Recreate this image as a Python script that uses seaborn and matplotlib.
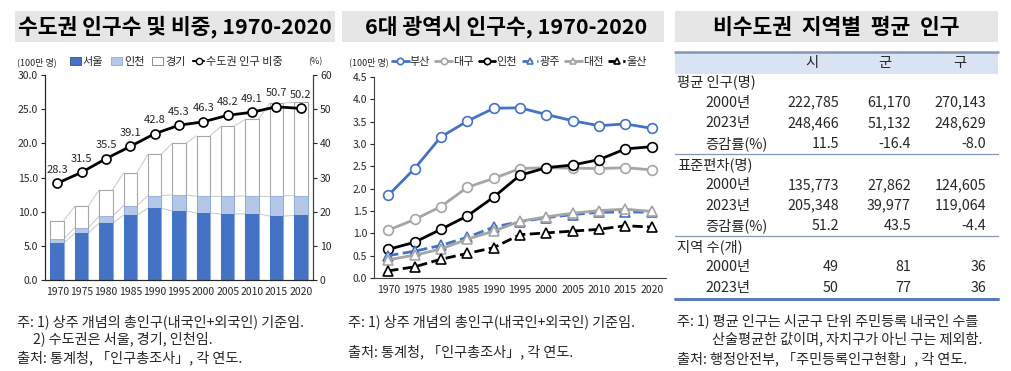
import numpy as np
import pandas as pd
import matplotlib
matplotlib.use("Agg")
import matplotlib.pyplot as plt
from matplotlib.lines import Line2D
from matplotlib.patches import Patch, Rectangle
import seaborn as sns

sns.set_style("white")
plt.rcParams['font.family'] = ['Noto Sans CJK KR', 'DejaVu Sans']

# ---- data ----
years = [1970, 1975, 1980, 1985, 1990, 1995, 2000, 2005, 2010, 2015, 2020]
seoul = [5.45, 6.85, 8.3, 9.5, 10.5, 10.1, 9.8, 9.65, 9.7, 9.35, 9.45]
incheon_cum = [6.0, 7.65, 9.35, 10.9, 12.35, 12.45, 12.25, 12.25, 12.3, 12.3, 12.35]
capital_total = [8.7, 10.8, 13.2, 15.7, 18.4, 20.0, 21.1, 22.5, 23.55, 25.9, 26.0]
capital_share = [28.3, 31.5, 35.5, 39.1, 42.8, 45.3, 46.3, 48.2, 49.1, 50.7, 50.2]

cities = ["부산", "대구", "인천", "광주", "대전", "울산"]
busan = [1.85, 2.45, 3.16, 3.51, 3.80, 3.81, 3.66, 3.52, 3.41, 3.45, 3.35]
daegu = [1.07, 1.31, 1.60, 2.03, 2.23, 2.45, 2.47, 2.46, 2.45, 2.47, 2.42]
incheon = [0.64, 0.80, 1.09, 1.39, 1.81, 2.30, 2.47, 2.53, 2.65, 2.89, 2.94]
gwangju = [0.50, 0.60, 0.73, 0.91, 1.14, 1.26, 1.35, 1.42, 1.47, 1.48, 1.47]
daejeon = [0.41, 0.51, 0.65, 0.87, 1.05, 1.27, 1.37, 1.45, 1.51, 1.54, 1.49]
ulsan = [0.16, 0.25, 0.42, 0.55, 0.68, 0.97, 1.01, 1.05, 1.09, 1.17, 1.14]

tbl_cols = ["시", "군", "구"]
avg_2000 = [222785, 61170, 270143]
avg_2023 = [248466, 51132, 248629]
avg_rate = [11.5, -16.4, -8.0]
std_2000 = [135773, 27862, 124605]
std_2023 = [205348, 39977, 119064]
std_rate = [51.2, 43.5, -4.4]
cnt_2000 = [49, 81, 36]
cnt_2023 = [50, 77, 36]

W, H = 1012, 371
fig = plt.figure(figsize=(W / 100, H / 100), dpi=100)

def fbox(x0, y0, x1, y1):
    # pixel box -> figure fraction rect
    return [x0 / W, 1 - y1 / H, (x1 - x0) / W, (y1 - y0) / H]

# overlay axis in pixel coords for titles, notes and table
ov = fig.add_axes([0, 0, 1, 1], zorder=0)
ov.set_xlim(0, W)
ov.set_ylim(H, 0)
ov.axis("off")

title_bg = "#e7e6e6"
for x0, x1, cx, txt in [(15, 335, 175, "수도권 인구수 및 비중, 1970-2020"),
                        (342, 664, 506, "6대 광역시 인구수, 1970-2020"),
                        (675, 998, 836, "비수도권 지역별 평균 인구")]:
    ov.add_patch(Rectangle((x0, 11), x1 - x0, 31, color=title_bg, lw=0))
    ov.text(cx, 27, txt.replace(" ", "  ") if "비수도권" in txt else txt, ha="center", va="center",
            fontsize=15.5, fontweight="bold", color="black")

# ---- left: stacked bars + share line ----
ax1 = fig.add_axes(fbox(45, 75, 313, 280), zorder=2)
df1 = pd.DataFrame({"year": [str(y) for y in years], "seoul": seoul,
                    "incheon": incheon_cum, "total": capital_total, "share": capital_share})
bw = 0.55
sns.barplot(data=df1, x="year", y="total", color="white", edgecolor="#a6a6a6", linewidth=0.8,
            width=bw, ax=ax1, saturation=1)
sns.barplot(data=df1, x="year", y="incheon", color="#b4c7e7", edgecolor="#8faadc", linewidth=0.6,
            width=bw, ax=ax1, saturation=1)
sns.barplot(data=df1, x="year", y="seoul", color="#4472c4", linewidth=0,
            width=bw, ax=ax1, saturation=1)

# series lines between bar tops
n = len(years)
for k in range(3):
    bars = ax1.patches[k * n:(k + 1) * n]
    for a, b in zip(bars[:-1], bars[1:]):
        ax1.plot([a.get_x() + a.get_width(), b.get_x()], [a.get_height(), b.get_height()],
                 color="#c8c8c8", lw=0.7, zorder=0.5)

ax1.set_ylim(0, 30)
ax1.set_yticks(np.arange(0, 31, 5))
ax1.set_yticklabels([f"{v:.1f}" for v in np.arange(0, 31, 5)])
ax1.set_xlim(-0.5, n - 0.5)
ax1.set_xlabel("")
ax1.set_ylabel("")
ax1.tick_params(axis="y", labelsize=7.5, length=3, direction="out", left=True, pad=2)
ax1.tick_params(axis="x", labelsize=7.5, length=0, pad=5)
for s in ["left", "right", "bottom"]:
    ax1.spines[s].set_color("#404040")
    ax1.spines[s].set_linewidth(0.8)
ax1.spines["top"].set_visible(False)

ax1b = ax1.twinx()
sns.pointplot(data=df1, x="year", y="share", color="black", markers="o", errorbar=None,
              linewidth=2, markersize=6.5, markerfacecolor="white", markeredgecolor="black",
              markeredgewidth=1.2, ax=ax1b)
ax1b.set_ylim(0, 60)
ax1b.set_yticks(np.arange(0, 61, 10))
ax1b.set_ylabel("")
ax1b.tick_params(axis="y", labelsize=7.5, length=3, direction="out", right=True, pad=2)
ax1b.spines["top"].set_visible(False)
ax1b.spines["right"].set_color("#404040")
ax1b.spines["right"].set_linewidth(0.8)
for i, v in enumerate(capital_share):
    ax1b.annotate(f"{v:.1f}", (i, v), xytext=(0, 6), textcoords="offset points",
                  ha="center", va="bottom", fontsize=8, color="#262626")

ov.text(17, 62, "(100만 명)", fontsize=6.5, va="center")
ov.text(308, 62, "(%)", fontsize=6.5, va="center")
h1 = [Patch(facecolor="#4472c4", edgecolor="#2f528f", lw=0.6, label="서울"),
      Patch(facecolor="#b4c7e7", edgecolor="#8faadc", lw=0.6, label="인천"),
      Patch(facecolor="white", edgecolor="#7f7f7f", lw=0.6, label="경기"),
      Line2D([], [], color="black", lw=1.5, marker="o", markersize=4.5,
             markerfacecolor="white", markeredgecolor="black", label="수도권 인구 비중")]
fig.legend(handles=h1, loc="center left", bbox_to_anchor=(70 / W, 1 - 62 / H), ncol=4,
           frameon=False, fontsize=8, handlelength=1.0, handleheight=0.7, handletextpad=0.15,
           columnspacing=0.7, borderaxespad=0, borderpad=0)

# ---- middle: six metropolitan cities ----
ax2 = fig.add_axes(fbox(374, 77, 666, 278), zorder=2)
styles = [
    (busan, "#4472c4", "o", "-"),
    (daegu, "#a5a5a5", "o", "-"),
    (incheon, "black", "o", "-"),
    (gwangju, "#4472c4", "^", "--"),
    (daejeon, "#a5a5a5", "^", "-"),
    (ulsan, "black", "^", "--"),
]
for name, (vals, col, mk, ls) in zip(cities, styles):
    sns.lineplot(x=years, y=vals, ax=ax2, color=col, marker=mk, linestyle=ls, lw=2,
                 markersize=7, markerfacecolor="white", markeredgecolor=col,
                 markeredgewidth=1.2, label=name)
ax2.set_xlim(1967.3, 2022.7)
ax2.set_ylim(0, 4.5)
ax2.set_xticks(years)
ax2.set_yticks(np.arange(0, 4.51, 0.5))
ax2.set_yticklabels([f"{v:.1f}" for v in np.arange(0, 4.51, 0.5)])
ax2.tick_params(axis="y", labelsize=7.5, length=3, direction="out", left=True, pad=2)
ax2.tick_params(axis="x", labelsize=7.5, length=0, pad=5)
for s in ["left", "bottom"]:
    ax2.spines[s].set_color("#404040")
    ax2.spines[s].set_linewidth(0.8)
ax2.spines["top"].set_visible(False)
ax2.spines["right"].set_visible(False)
ax2.get_legend().remove()
h2, l2 = ax2.get_legend_handles_labels()
ov.text(349, 62, "(100만 명)", fontsize=6.5, va="center")
fig.legend(h2, l2, loc="center left", bbox_to_anchor=(392 / W, 1 - 62 / H), ncol=6,
           frameon=False, fontsize=8, handlelength=1.5, handletextpad=0.1,
           columnspacing=0.45, borderaxespad=0, borderpad=0, markerscale=0.65)

# ---- right: table ----
tfs = 10.3
ov.add_patch(Rectangle((675, 52), 323, 21.5, color="#dae3f3", lw=0))
ov.plot([675, 998], [52, 52], color="#8497b0", lw=1.8)
col_c = [812, 885, 960]
col_r = [839, 911, 986]
for c, t in zip(col_c, tbl_cols):
    ov.text(c, 63, t, ha="center", va="center", fontsize=tfs, color="#262626")

fmt_int = lambda v: f"{v:,}"
fmt_pct = lambda v: f"{v:.1f}"
sections = [
    ("평균 인구(명)", [("2000년", avg_2000, fmt_int), ("2023년", avg_2023, fmt_int),
                     ("증감률(%)", avg_rate, fmt_pct)]),
    ("표준편차(명)", [("2000년", std_2000, fmt_int), ("2023년", std_2023, fmt_int),
                    ("증감률(%)", std_rate, fmt_pct)]),
    ("지역 수(개)", [("2000년", cnt_2000, fmt_int), ("2023년", cnt_2023, fmt_int)]),
]
y = 82
step = 20.6
for si, (head, rows) in enumerate(sections):
    ov.text(677, y, head, ha="left", va="center", fontsize=tfs, color="#262626")
    y += step
    for lab, vals, f in rows:
        ov.text(705, y, lab, ha="left", va="center", fontsize=tfs, color="#262626")
        for x, v in zip(col_r, vals):
            ov.text(x, y, f(v), ha="right", va="center", fontsize=tfs, color="#262626")
        y += step
    ln = y - step / 2
    if si < len(sections) - 1:
        ov.plot([675, 998], [ln, ln], color="#8497b0", lw=0.9)
    else:
        ov.plot([675, 998], [ln + 1, ln + 1], color="#5b7bbd", lw=2.2)

# ---- notes ----
nfs = 10.2
ov.text(17, 322, "주: 1) 상주 개념의 총인구(내국인+외국인) 기준임.", fontsize=nfs, va="center")
ov.text(33, 339, "2) 수도권은 서울, 경기, 인천임.", fontsize=nfs, va="center")
ov.text(17, 358, "출처: 통계청, 「인구총조사」, 각 연도.", fontsize=nfs, va="center")
ov.text(348, 322, "주: 1) 상주 개념의 총인구(내국인+외국인) 기준임.", fontsize=nfs, va="center")
ov.text(348, 352, "출처: 통계청, 「인구총조사」, 각 연도.", fontsize=nfs, va="center")
ov.text(677, 321, "주: 1) 평균 인구는 시군구 단위 주민등록 내국인 수를", fontsize=nfs, va="center")
ov.text(712, 339, "산술평균한 값이며, 자치구가 아닌 구는 제외함.", fontsize=nfs, va="center")
ov.text(677, 359, "출처: 행정안전부, 「주민등록인구현황」, 각 연도.", fontsize=nfs, va="center")

fig.savefig("out.png", dpi=100)
